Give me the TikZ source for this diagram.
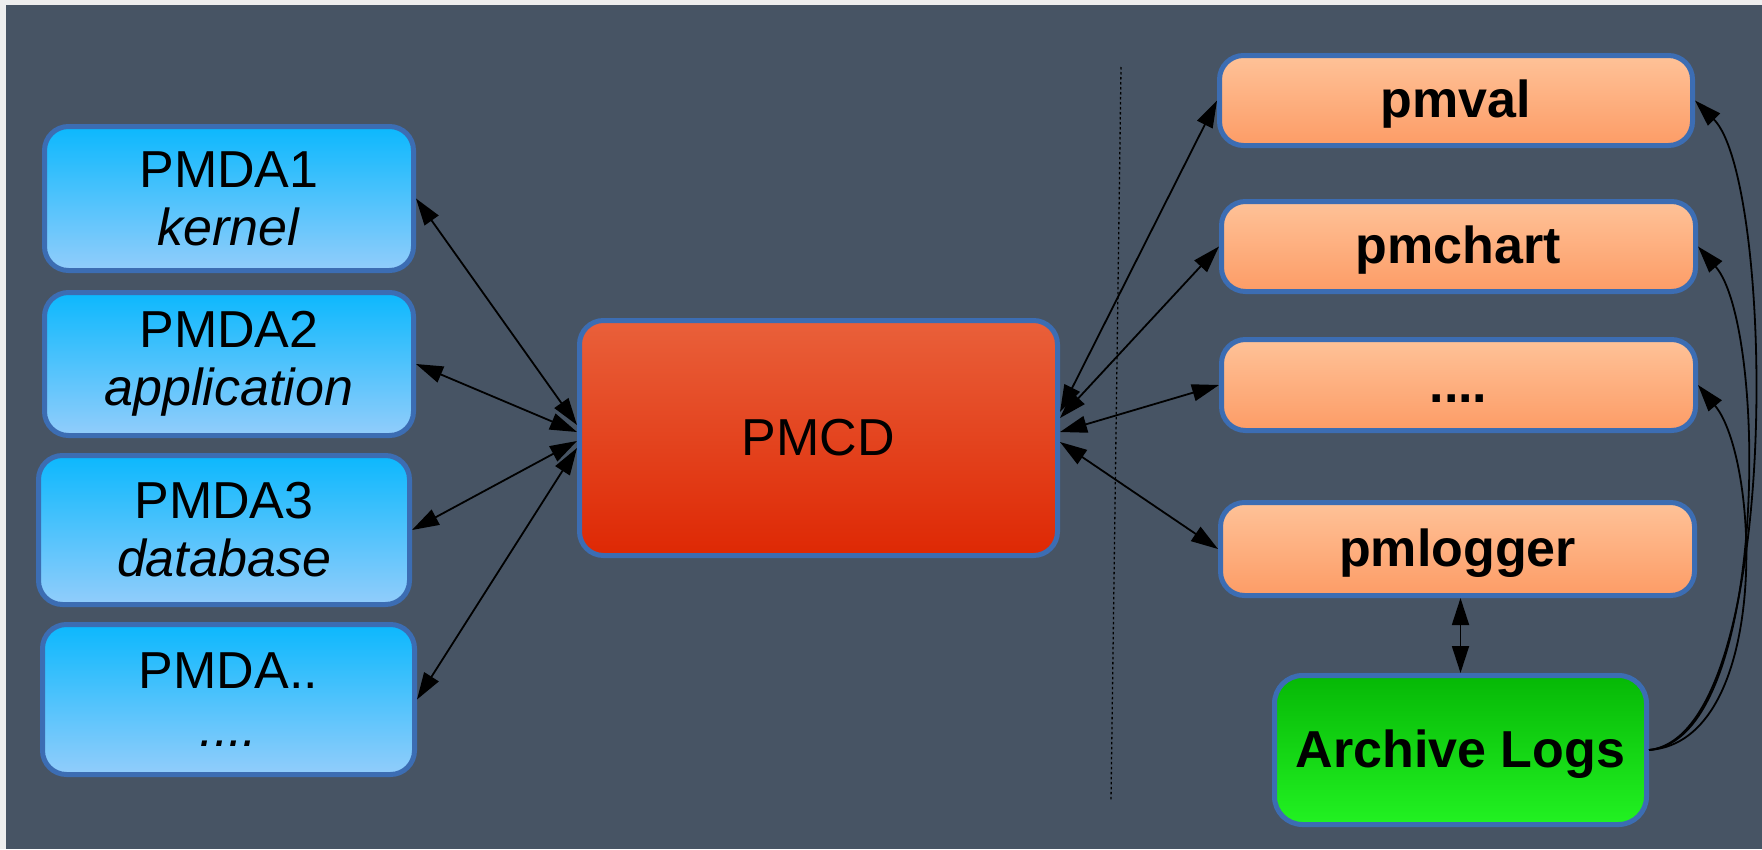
\documentclass[tikz,border=0pt]{standalone}
\usepackage{fontspec}
\setmainfont{Liberation Sans}
\usetikzlibrary{arrows.meta,calc}
\definecolor{bgdark}{HTML}{475464}
\definecolor{bglight}{HTML}{EEEEEE}
\definecolor{bordblue}{HTML}{3C6DB3}
\definecolor{bluetop}{HTML}{0CB8FD}
\definecolor{bluebot}{HTML}{92CDFB}
\definecolor{redtop}{HTML}{E9603A}
\definecolor{redbot}{HTML}{DE2804}
\definecolor{orangetop}{HTML}{FEC298}
\definecolor{orangebot}{HTML}{FD9C66}
\definecolor{greentop}{HTML}{06B806}
\definecolor{greenbot}{HTML}{22F222}
\begin{document}
\begin{tikzpicture}[x=1pt,y=-1pt,
  box/.style={rectangle, rounded corners=24pt, draw=bordblue, line width=5pt, inner sep=0pt, align=center, text=black},
  pmda/.style={box, top color=bluetop, bottom color=bluebot, font=\fontsize{52}{58}\selectfont},
  daemon/.style={box, top color=redtop, bottom color=redbot, font=\fontsize{52}{58}\selectfont},
  client/.style={box, top color=orangetop, bottom color=orangebot, font=\bfseries\fontsize{52}{58}\selectfont, text height=38pt, text depth=4pt},
  archbox/.style={box, rounded corners=28pt, top color=greentop, bottom color=greenbot, font=\bfseries\fontsize{52}{58}\selectfont, text height=38pt, text depth=4pt},
  link/.style={line width=1.8pt, draw=black},
  biarrow/.style={link, {Triangle[length=27pt,width=17pt]}-{Triangle[length=27pt,width=17pt]}},
  onearrow/.style={link, -{Triangle[length=27pt,width=17pt]}},
  sep/.style={line width=1.3pt, draw=black, dash pattern=on 2.5pt off 2.5pt}
]
\useasboundingbox (0,0) rectangle (1762,849);
\fill[bglight] (0,0) rectangle (1762,849);
\fill[bgdark] (6,5) rectangle (1762,849);

% left PMDA boxes
\node[pmda, minimum width=369pt, minimum height=144pt] (pmda1) at (229,198.5) {PMDA1\\\textit{kernel}};
\node[pmda, minimum width=369pt, minimum height=143pt] (pmda2) at (229,364) {PMDA2\\\textit{application}};
\node[pmda, minimum width=371pt, minimum height=149pt] (pmda3) at (224,530) {PMDA3\\\textit{database}};
\node[pmda, minimum width=372pt, minimum height=150pt] (pmdax) at (228.5,699.5) {PMDA..\\\textit{....}};

% central daemon
\node[daemon, minimum width=478pt, minimum height=235pt] (pmcd) at (818.5,438) {PMCD};

% right clients
\node[client, minimum width=473pt, minimum height=90pt] (pmval) at (1456,100.5) {pmval};
\node[client, minimum width=474pt, minimum height=90pt] (pmchart) at (1458.5,246.5) {pmchart};
\node[client, minimum width=474pt, minimum height=91pt] (dots) at (1458.5,385) {....};
\node[client, minimum width=474pt, minimum height=93pt] (pmlogger) at (1457.5,549) {pmlogger};
\node[archbox, minimum width=372pt, minimum height=149pt] (archive) at (1460.5,750) {Archive Logs};

% separator
\coordinate (septop) at (1121,67);
\coordinate (sepbot) at (1111,800);
\draw[sep] (septop) -- (sepbot);

% PMDA <-> PMCD
\draw[biarrow] (pmda1.east) -- ($(pmcd.west)+(0,-13)$);
\draw[biarrow] (pmda2.east) -- ($(pmcd.west)+(0,-6)$);
\draw[biarrow] (pmda3.east) -- ($(pmcd.west)+(0,3)$);
\draw[biarrow] (pmdax.east) -- ($(pmcd.west)+(0,10)$);

% PMCD <-> clients
\draw[biarrow] ($(pmcd.east)+(0,-26)$) -- (pmval.west);
\draw[biarrow] ($(pmcd.east)+(0,-20)$) -- (pmchart.west);
\draw[biarrow] ($(pmcd.east)+(0,-6)$) -- (dots.west);
\draw[biarrow] ($(pmcd.east)+(0,4)$) -- (pmlogger.west);

% pmlogger <-> archive
\draw[biarrow] (pmlogger.south -| archive.north) -- (archive.north);

% archive -> clients
\draw[onearrow] (archive.east) .. controls +(135,-15) and +(80,80) .. (pmval.east);
\draw[onearrow] (archive.east) .. controls +(120,-10) and +(70,80) .. (pmchart.east);
\draw[onearrow] (archive.east) .. controls +(122,-8) and +(62,75) .. (dots.east);
\end{tikzpicture}
\end{document}
